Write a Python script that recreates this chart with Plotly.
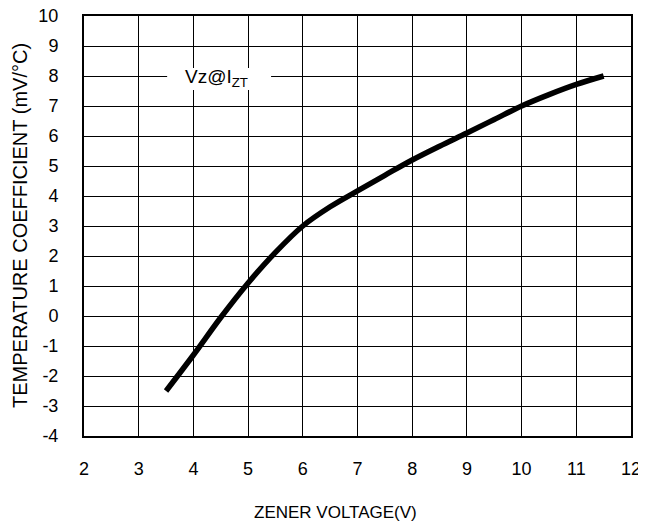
import plotly.graph_objects as go

zener_v = [3.5, 4.0, 4.5, 5.0, 5.5, 6.0, 6.5, 7.0, 7.5, 8.0, 8.5, 9.0, 9.5, 10.0, 10.5, 11.0, 11.5]
temp_coef = [-2.5, -1.3, -0.05, 1.1, 2.12, 3.0, 3.64, 4.17, 4.69, 5.2, 5.66, 6.1, 6.55, 7.0, 7.38, 7.72, 8.0]
x_ticks = [2, 3, 4, 5, 6, 7, 8, 9, 10, 11, 12]
y_ticks = list(range(-4, 11))
y_tick_text = [str(v) for v in y_ticks]
legend_label = "Vz@I<sub>ZT</sub>"
x_title = "ZENER VOLTAGE(V)"
y_title = "TEMPERATURE COEFFICIENT (mV/°C)"

FONT = "Liberation Sans, Arial, sans-serif"

fig = go.Figure()
fig.add_trace(go.Scatter(
    x=zener_v, y=temp_coef, mode="lines",
    line=dict(color="black", width=5.5, shape="spline", smoothing=1.0),
    showlegend=False,
))

# legend box (white patch over the grid) and label
fig.add_shape(type="rect", xref="x", yref="y", x0=3.52, x1=5.42, y0=7.53, y1=8.27,
              fillcolor="white", line=dict(width=0), layer="above")
fig.add_annotation(x=4.43, y=7.95, xref="x", yref="y", text=legend_label,
                   showarrow=False, font=dict(family=FONT, size=19, color="black"))

# axis titles
fig.add_annotation(x=0.459, y=-0.181, xref="paper", yref="paper", text=x_title,
                   showarrow=False, xanchor="center", yanchor="middle",
                   font=dict(family=FONT, size=17, color="black"))
fig.add_annotation(x=-0.117, y=0.5, xref="paper", yref="paper", text=y_title,
                   showarrow=False, xanchor="center", yanchor="middle", textangle=-90,
                   font=dict(family=FONT, size=20, color="black"))

# the page adds an 8px body margin, so the figure is offset by 8px
fig.update_layout(
    width=638, height=520,
    margin=dict(l=76, r=15, t=8, b=92),
    paper_bgcolor="white", plot_bgcolor="white",
    font=dict(family=FONT, size=18, color="black"),
)
fig.update_xaxes(
    range=[2, 12], tickvals=x_ticks, ticks="", showgrid=True, gridcolor="black", gridwidth=1,
    showline=True, linecolor="black", linewidth=2, mirror=True, zeroline=False,
    ticklabelstandoff=15, automargin=False, tickfont=dict(size=18),
    ticklabeloverflow="allow",
)
fig.update_yaxes(
    range=[-4, 10], tickvals=y_ticks, ticktext=y_tick_text, ticks="", showgrid=True,
    gridcolor="black", gridwidth=1,
    showline=True, linecolor="black", linewidth=2, mirror=True, zeroline=False,
    ticklabelstandoff=20, automargin=False, tickfont=dict(size=18),
    ticklabeloverflow="allow",
)

fig.write_html("out.html")
